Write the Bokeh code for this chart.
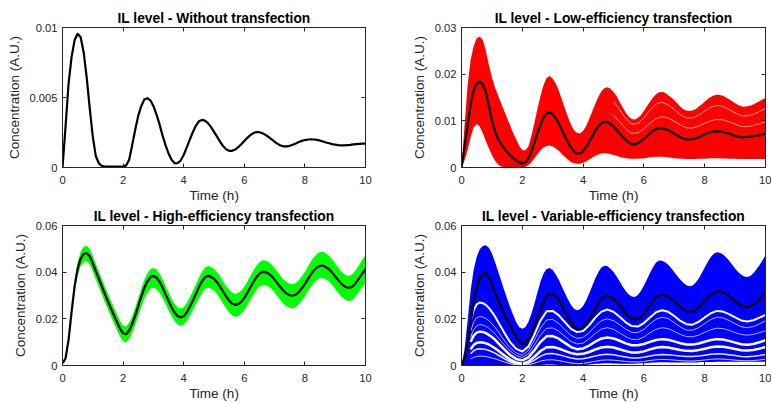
import numpy as np
from bokeh.plotting import figure
from bokeh.layouts import row, column
from bokeh.models import Range1d, FixedTicker, LinearAxis, CustomJSTickFormatter
from bokeh.embed import file_html
from bokeh.resources import INLINE

# ---------------- data ----------------
# fine time grid (hours) for the mean curves and the envelopes of the trace bundles
T_FINE = [0.0, 0.1, 0.2, 0.3, 0.4, 0.5, 0.6, 0.7, 0.8, 0.9,
          1.0, 1.1, 1.2, 1.3, 1.4, 1.5, 1.6, 1.7, 1.8, 1.9,
          2.0, 2.1, 2.2, 2.3, 2.4, 2.5, 2.6, 2.7, 2.8, 2.9,
          3.0, 3.1, 3.2, 3.3, 3.4, 3.5, 3.6, 3.7, 3.8, 3.9,
          4.0, 4.1, 4.2, 4.3, 4.4, 4.5, 4.6, 4.7, 4.8, 4.9,
          5.0, 5.1, 5.2, 5.3, 5.4, 5.5, 5.6, 5.7, 5.8, 5.9,
          6.0, 6.1, 6.2, 6.3, 6.4, 6.5, 6.6, 6.7, 6.8, 6.9,
          7.0, 7.1, 7.2, 7.3, 7.4, 7.5, 7.6, 7.7, 7.8, 7.9,
          8.0, 8.1, 8.2, 8.3, 8.4, 8.5, 8.6, 8.7, 8.8, 8.9,
          9.0, 9.1, 9.2, 9.3, 9.4, 9.5, 9.6, 9.7, 9.8, 9.9,
          10.0]

# Panel 1: without transfection (values in 1e-3 A.U.)
IL_NONE_MILLI = [0.0, 2.9, 6.0, 7.9, 9.1, 9.55, 9.3, 8.2, 6.4, 4.2,
                 2.2, 0.8, 0.3, 0.12, 0.07, 0.06, 0.06, 0.06, 0.06, 0.06,
                 0.07, 0.15, 0.55, 1.6, 2.7, 3.7, 4.4, 4.85, 4.95, 4.8,
                 4.4, 3.8, 3.1, 2.3, 1.6, 1.0, 0.55, 0.3, 0.31, 0.5,
                 0.9, 1.43, 1.99, 2.52, 2.98, 3.3, 3.4, 3.35, 3.17, 2.9,
                 2.55, 2.2, 1.85, 1.53, 1.3, 1.19, 1.19, 1.28, 1.45, 1.66,
                 1.9, 2.12, 2.31, 2.46, 2.53, 2.52, 2.45, 2.33, 2.18, 2.01,
                 1.84, 1.69, 1.57, 1.51, 1.51, 1.55, 1.62, 1.72, 1.82, 1.9,
                 1.96, 2.0, 2.01, 2.0, 1.97, 1.92, 1.86, 1.79, 1.73, 1.67,
                 1.63, 1.6, 1.58, 1.58, 1.6, 1.62, 1.65, 1.67, 1.69, 1.70,
                 1.71]

# Panel 2: low-efficiency transfection (values in 1e-2 A.U.)
IL_LOW_MEAN_CENTI = [0.0, 0.45, 0.9, 1.35, 1.65, 1.8, 1.84, 1.78, 1.62, 1.33,
                     1.02, 0.79, 0.62, 0.51, 0.41, 0.33, 0.26, 0.2, 0.15, 0.11,
                     0.09, 0.11, 0.19, 0.34, 0.53, 0.73, 0.92, 1.07, 1.16, 1.18,
                     1.145, 1.06, 0.95, 0.81, 0.67, 0.54, 0.43, 0.35, 0.30, 0.30,
                     0.35, 0.44, 0.545, 0.66, 0.78, 0.88, 0.95, 0.98, 0.97, 0.935,
                     0.88, 0.81, 0.73, 0.66, 0.59, 0.535, 0.50, 0.495, 0.52, 0.56,
                     0.61, 0.67, 0.73, 0.785, 0.82, 0.84, 0.84, 0.825, 0.80, 0.76,
                     0.72, 0.68, 0.65, 0.62, 0.60, 0.60, 0.61, 0.625, 0.65, 0.68,
                     0.71, 0.74, 0.76, 0.775, 0.78, 0.775, 0.76, 0.745, 0.725, 0.70,
                     0.68, 0.66, 0.65, 0.648, 0.655, 0.66, 0.67, 0.68, 0.695, 0.71,
                     0.72]
IL_LOW_UPPER_CENTI = [0.0, 0.9, 1.75, 2.3, 2.6, 2.77, 2.80, 2.74, 2.5, 2.2,
                      1.93, 1.72, 1.55, 1.38, 1.22, 1.06, 0.9, 0.74, 0.6, 0.46,
                      0.37, 0.37, 0.45, 0.68, 0.96, 1.26, 1.54, 1.77, 1.92, 1.96,
                      1.90, 1.8, 1.65, 1.46, 1.27, 1.08, 0.92, 0.8, 0.74, 0.73,
                      0.78, 0.89, 1.04, 1.2, 1.36, 1.51, 1.63, 1.70, 1.72, 1.69,
                      1.62, 1.53, 1.41, 1.29, 1.18, 1.09, 1.04, 1.03, 1.06, 1.12,
                      1.21, 1.31, 1.41, 1.5, 1.57, 1.61, 1.62, 1.6, 1.55, 1.5,
                      1.44, 1.37, 1.30, 1.25, 1.22, 1.21, 1.22, 1.25, 1.30, 1.35,
                      1.41, 1.47, 1.51, 1.545, 1.56, 1.555, 1.535, 1.5, 1.46, 1.42,
                      1.375, 1.34, 1.31, 1.30, 1.31, 1.325, 1.35, 1.385, 1.42, 1.455,
                      1.49]
IL_LOW_LOWER_CENTI = [0.0, 0.15, 0.37, 0.65, 0.86, 0.93, 0.88, 0.74, 0.57, 0.41,
                      0.27, 0.15, 0.07, 0.02, 0.0, 0.0, 0.0, 0.0, 0.0, 0.0,
                      0.0, 0.01, 0.05, 0.11, 0.2, 0.29, 0.37, 0.43, 0.46, 0.47,
                      0.45, 0.41, 0.36, 0.29, 0.23, 0.17, 0.12, 0.09, 0.08, 0.08,
                      0.1, 0.13, 0.17, 0.21, 0.25, 0.28, 0.30, 0.305, 0.30, 0.29,
                      0.27, 0.25, 0.23, 0.215, 0.2, 0.195, 0.19, 0.19, 0.19, 0.195,
                      0.2, 0.21, 0.22, 0.225, 0.23, 0.23, 0.23, 0.225, 0.22, 0.21,
                      0.2, 0.195, 0.19, 0.185, 0.18, 0.18, 0.18, 0.182, 0.185, 0.188,
                      0.19, 0.195, 0.2, 0.2, 0.2, 0.198, 0.195, 0.192, 0.19, 0.188,
                      0.185, 0.182, 0.18, 0.18, 0.18, 0.18, 0.18, 0.18, 0.18, 0.18,
                      0.18]
# visible gaps between individual low-efficiency traces (from t = 5 h)
T_LOW_GAPS = [5.0, 5.2, 5.4, 5.6, 5.8, 6.0, 6.2, 6.4, 6.6, 6.8, 7.0, 7.2, 7.4,
              7.6, 7.8, 8.0, 8.2, 8.4, 8.6, 8.8, 9.0, 9.2, 9.4, 9.6, 9.8, 10.0]
IL_LOW_GAP_A_CENTI = [1.415, 1.24, 1.05, 0.93, 0.94, 1.06, 1.23, 1.36, 1.40, 1.34, 1.24, 1.13, 1.06,
                      1.06, 1.12, 1.21, 1.29, 1.33, 1.31, 1.24, 1.17, 1.11, 1.105, 1.14, 1.20, 1.26]
IL_LOW_GAP_B_CENTI = [1.12, 0.98, 0.83, 0.73, 0.74, 0.83, 0.95, 1.05, 1.09, 1.06, 0.99, 0.91, 0.85,
                      0.845, 0.89, 0.95, 1.0, 1.03, 1.02, 0.98, 0.93, 0.88, 0.875, 0.9, 0.94, 0.98]

# Panel 3: high-efficiency transfection (values in 1e-2 A.U.)
IL_HIGH_MEAN_CENTI = [0.10, 0.30, 1.10, 2.30, 3.40, 4.15, 4.58, 4.78, 4.82, 4.68,
                      4.38, 4.04, 3.72, 3.39, 3.06, 2.75, 2.45, 2.15, 1.86, 1.58,
                      1.38, 1.34, 1.50, 1.78, 2.14, 2.55, 2.95, 3.32, 3.60, 3.78,
                      3.84, 3.77, 3.60, 3.35, 3.06, 2.77, 2.50, 2.27, 2.12, 2.06,
                      2.11, 2.27, 2.51, 2.78, 3.06, 3.35, 3.60, 3.78, 3.84, 3.80,
                      3.72, 3.57, 3.38, 3.17, 2.96, 2.78, 2.65, 2.60, 2.63, 2.73,
                      2.90, 3.11, 3.35, 3.58, 3.78, 3.93, 4.01, 4.00, 3.94, 3.83,
                      3.68, 3.51, 3.34, 3.19, 3.08, 3.01, 2.99, 3.04, 3.15, 3.31,
                      3.49, 3.70, 3.91, 4.08, 4.20, 4.27, 4.27, 4.21, 4.12, 3.98,
                      3.82, 3.66, 3.51, 3.40, 3.34, 3.34, 3.42, 3.57, 3.76, 3.95,
                      4.13]
IL_HIGH_UPPER_CENTI = [0.15, 0.40, 1.25, 2.50, 3.65, 4.43, 4.88, 5.09, 5.13, 4.99,
                       4.70, 4.36, 4.04, 3.71, 3.38, 3.07, 2.78, 2.48, 2.19, 1.91,
                       1.71, 1.67, 1.83, 2.11, 2.47, 2.88, 3.29, 3.66, 3.94, 4.12,
                       4.18, 4.115, 3.95, 3.705, 3.42, 3.135, 2.87, 2.645, 2.50, 2.445,
                       2.50, 2.665, 2.91, 3.185, 3.47, 3.76, 4.01, 4.19, 4.26, 4.225,
                       4.15, 4.005, 3.82, 3.615, 3.41, 3.24, 3.12, 3.075, 3.11, 3.21,
                       3.38, 3.595, 3.84, 4.075, 4.28, 4.43, 4.51, 4.50, 4.44, 4.33,
                       4.18, 4.01, 3.84, 3.69, 3.58, 3.505, 3.48, 3.535, 3.65, 3.82,
                       4.01, 4.235, 4.46, 4.645, 4.78, 4.86, 4.87, 4.80, 4.70, 4.545,
                       4.37, 4.195, 4.03, 3.91, 3.84, 3.855, 3.95, 4.12, 4.33, 4.54,
                       4.74]
IL_HIGH_LOWER_CENTI = [0.05, 0.20, 0.95, 2.10, 3.15, 3.85, 4.25, 4.43, 4.47, 4.33,
                       4.03, 3.69, 3.37, 3.04, 2.71, 2.40, 2.10, 1.80, 1.52, 1.24,
                       1.04, 0.99, 1.14, 1.40, 1.74, 2.125, 2.50, 2.845, 3.10, 3.275,
                       3.33, 3.27, 3.12, 2.90, 2.64, 2.37, 2.12, 1.90, 1.76, 1.70,
                       1.75, 1.89, 2.11, 2.355, 2.61, 2.875, 3.10, 3.275, 3.33, 3.29,
                       3.21, 3.06, 2.87, 2.66, 2.45, 2.27, 2.14, 2.09, 2.12, 2.22,
                       2.38, 2.58, 2.81, 3.035, 3.23, 3.375, 3.45, 3.44, 3.38, 3.275,
                       3.13, 2.96, 2.79, 2.64, 2.54, 2.47, 2.45, 2.505, 2.62, 2.785,
                       2.97, 3.18, 3.39, 3.56, 3.68, 3.75, 3.75, 3.685, 3.59, 3.445,
                       3.28, 3.115, 2.96, 2.845, 2.78, 2.775, 2.85, 2.995, 3.18, 3.365,
                       3.54]

# Panel 4: variable-efficiency transfection (values in 1e-2 A.U.)
IL_VAR_MEAN_CENTI = [0.0, 0.3, 0.9, 1.8, 2.7, 3.35, 3.75, 3.93, 3.96, 3.78,
                     3.45, 3.12, 2.82, 2.52, 2.22, 1.95, 1.70, 1.45, 1.22, 1.03,
                     0.93, 0.95, 1.09, 1.35, 1.69, 2.06, 2.41, 2.73, 2.97, 3.07,
                     3.06, 2.96, 2.80, 2.57, 2.31, 2.06, 1.82, 1.65, 1.56, 1.55,
                     1.62, 1.77, 1.97, 2.19, 2.42, 2.65, 2.84, 2.95, 2.98, 2.95,
                     2.86, 2.74, 2.59, 2.42, 2.24, 2.10, 2.01, 1.97, 1.99, 2.07,
                     2.21, 2.39, 2.58, 2.76, 2.90, 2.99, 3.03, 3.01, 2.95, 2.86,
                     2.75, 2.62, 2.50, 2.40, 2.33, 2.30, 2.32, 2.38, 2.48, 2.61,
                     2.76, 2.90, 3.02, 3.11, 3.16, 3.17, 3.13, 3.06, 2.97, 2.86,
                     2.75, 2.65, 2.57, 2.52, 2.51, 2.54, 2.61, 2.71, 2.84, 2.97,
                     3.10]
IL_VAR_UPPER_CENTI = [0.0, 0.7, 1.9, 3.2, 4.1, 4.65, 4.98, 5.12, 5.15, 5.05,
                      4.8, 4.45, 4.05, 3.65, 3.25, 2.87, 2.5, 2.16, 1.85, 1.64,
                      1.57, 1.64, 1.86, 2.22, 2.66, 3.14, 3.60, 3.94, 4.14, 4.18,
                      4.09, 3.90, 3.67, 3.39, 3.11, 2.84, 2.60, 2.43, 2.37, 2.41,
                      2.55, 2.79, 3.09, 3.41, 3.73, 4.00, 4.20, 4.28, 4.25, 4.15,
                      4.01, 3.82, 3.61, 3.39, 3.19, 3.04, 2.96, 2.94, 3.02, 3.19,
                      3.42, 3.69, 3.96, 4.21, 4.41, 4.50, 4.49, 4.42, 4.32, 4.17,
                      4.00, 3.84, 3.68, 3.54, 3.44, 3.40, 3.43, 3.55, 3.72, 3.95,
                      4.20, 4.44, 4.65, 4.79, 4.85, 4.83, 4.76, 4.64, 4.50, 4.33,
                      4.16, 4.01, 3.89, 3.81, 3.79, 3.84, 3.95, 4.11, 4.30, 4.50,
                      4.71]
IL_VAR_LOWER_CENTI = [0.0, 0.0, 0.0, 0.0, 0.0, 0.0, 0.0, 0.0, 0.0, 0.0,
                      0.0, 0.0, 0.0, 0.0, 0.0, 0.0, 0.0, 0.0, 0.0, 0.0,
                      0.0, 0.0, 0.0, 0.0, 0.0, 0.0, 0.02, 0.03, 0.04, 0.045,
                      0.04, 0.03, 0.02, 0.01, 0.0, 0.0, 0.0, 0.0, 0.0, 0.0,
                      0.01, 0.025, 0.04, 0.055, 0.07, 0.08, 0.09, 0.095, 0.1, 0.095,
                      0.09, 0.085, 0.08, 0.08, 0.08, 0.08, 0.08, 0.08, 0.09, 0.095,
                      0.1, 0.11, 0.12, 0.125, 0.13, 0.135, 0.14, 0.14, 0.14, 0.13,
                      0.13, 0.13, 0.13, 0.13, 0.13, 0.13, 0.13, 0.13, 0.14, 0.145,
                      0.15, 0.15, 0.15, 0.15, 0.16, 0.16, 0.16, 0.16, 0.16, 0.16,
                      0.16, 0.16, 0.16, 0.16, 0.16, 0.16, 0.16, 0.16, 0.16, 0.16,
                      0.16]

# coarser grid (hours) for the visible gaps between groups of variable-efficiency traces
T_GAPS = [0.0, 0.1, 0.2, 0.3, 0.4, 0.5, 0.6, 0.7, 0.8, 0.9, 1.0, 1.1, 1.2,
          1.4, 1.6, 1.8, 2.0, 2.2, 2.4, 2.6, 2.8, 3.0, 3.2, 3.4, 3.6, 3.8,
          4.0, 4.2, 4.4, 4.6, 4.8, 5.0, 5.2, 5.4, 5.6, 5.8, 6.0, 6.2, 6.4,
          6.6, 6.8, 7.0, 7.2, 7.4, 7.6, 7.8, 8.0, 8.2, 8.4, 8.6, 8.8, 9.0,
          9.2, 9.4, 9.6, 9.8, 10.0]
IL_VAR_GAP_1_CENTI = [0.0, 0.54, 1.22, 1.89, 2.38, 2.62, 2.70, 2.67, 2.60, 2.47, 2.30, 2.11, 1.88,
                      1.42, 1.00, 0.71, 0.60, 0.81, 1.33, 1.93, 2.32, 2.34, 2.15, 1.86, 1.57, 1.43,
                      1.48, 1.72, 2.05, 2.31, 2.40, 2.30, 2.09, 1.85, 1.69, 1.67, 1.82, 2.06, 2.28,
                      2.37, 2.30, 2.12, 1.91, 1.77, 1.75, 1.87, 2.06, 2.24, 2.34, 2.31, 2.20, 2.06,
                      1.93, 1.89, 1.94, 2.05, 2.17]
IL_VAR_GAP_2_CENTI = [0.0, 0.42, 0.95, 1.47, 1.85, 2.04, 2.10, 2.08, 2.02, 1.92, 1.79, 1.64, 1.46,
                      1.09, 0.76, 0.53, 0.45, 0.64, 1.09, 1.61, 1.95, 1.98, 1.80, 1.54, 1.29, 1.16,
                      1.20, 1.41, 1.69, 1.92, 2.00, 1.92, 1.75, 1.56, 1.42, 1.41, 1.55, 1.78, 1.98,
                      2.07, 2.01, 1.84, 1.65, 1.52, 1.51, 1.62, 1.80, 1.97, 2.07, 2.04, 1.93, 1.79,
                      1.66, 1.62, 1.67, 1.78, 1.91]
IL_VAR_GAP_3_CENTI = [0.0, 0.35, 0.79, 1.23, 1.54, 1.70, 1.75, 1.73, 1.68, 1.60, 1.48, 1.36, 1.20,
                      0.90, 0.62, 0.42, 0.35, 0.50, 0.88, 1.31, 1.59, 1.61, 1.47, 1.25, 1.03, 0.925,
                      0.96, 1.14, 1.37, 1.56, 1.62, 1.55, 1.40, 1.24, 1.12, 1.11, 1.22, 1.40, 1.55,
                      1.62, 1.58, 1.46, 1.33, 1.24, 1.23, 1.30, 1.42, 1.535, 1.60, 1.58, 1.51, 1.41,
                      1.33, 1.30, 1.33, 1.405, 1.49]
IL_VAR_GAP_4_CENTI = [0.0, 0.29, 0.65, 1.02, 1.28, 1.41, 1.45, 1.44, 1.39, 1.31, 1.22, 1.11, 0.97,
                      0.70, 0.45, 0.28, 0.22, 0.35, 0.655, 1.015, 1.25, 1.26, 1.15, 0.97, 0.79, 0.70,
                      0.73, 0.855, 1.02, 1.155, 1.20, 1.16, 1.06, 0.95, 0.87, 0.865, 0.92, 1.01, 1.095,
                      1.13, 1.10, 1.035, 0.955, 0.90, 0.895, 0.94, 1.015, 1.09, 1.13, 1.115, 1.055, 0.98,
                      0.91, 0.89, 0.92, 0.995, 1.08]
IL_VAR_GAP_5_CENTI = [0.0, 0.20, 0.45, 0.70, 0.88, 0.97, 1.00, 0.99, 0.95, 0.90, 0.825, 0.74, 0.64,
                      0.44, 0.255, 0.125, 0.08, 0.165, 0.375, 0.62, 0.78, 0.79, 0.73, 0.63, 0.53, 0.48,
                      0.50, 0.58, 0.685, 0.77, 0.80, 0.77, 0.695, 0.615, 0.56, 0.555, 0.605, 0.69, 0.76,
                      0.79, 0.77, 0.72, 0.666, 0.627, 0.624, 0.66, 0.72, 0.78, 0.81, 0.80, 0.757, 0.703,
                      0.656, 0.64, 0.666, 0.724, 0.79]
IL_VAR_GAP_6_CENTI = [0.0, 0.144, 0.324, 0.504, 0.634, 0.70, 0.72, 0.71, 0.685, 0.644, 0.59, 0.53, 0.45,
                      0.30, 0.16, 0.065, 0.03, 0.09, 0.23, 0.40, 0.505, 0.51, 0.465, 0.39, 0.32, 0.28,
                      0.29, 0.34, 0.41, 0.46, 0.48, 0.46, 0.41, 0.36, 0.326, 0.323, 0.355, 0.405, 0.45,
                      0.47, 0.46, 0.434, 0.404, 0.384, 0.382, 0.405, 0.443, 0.48, 0.50, 0.49, 0.463, 0.424,
                      0.39, 0.38, 0.396, 0.43, 0.47]
IL_VAR_GAP_7_CENTI = [0.0, 0.08, 0.18, 0.28, 0.35, 0.39, 0.40, 0.395, 0.38, 0.356, 0.324, 0.288, 0.244,
                      0.156, 0.076, 0.02, 0.0, 0.03, 0.10, 0.19, 0.24, 0.245, 0.21, 0.158, 0.107, 0.08,
                      0.09, 0.13, 0.18, 0.226, 0.24, 0.228, 0.202, 0.173, 0.154, 0.152, 0.175, 0.213, 0.246,
                      0.26, 0.252, 0.232, 0.209, 0.193, 0.192, 0.209, 0.237, 0.265, 0.28, 0.275, 0.255, 0.23,
                      0.208, 0.20, 0.212, 0.238, 0.268]

TITLES = ["IL level - Without transfection",
          "IL level - Low-efficiency transfection",
          "IL level - High-efficiency transfection",
          "IL level - Variable-efficiency transfection"]
X_LABEL = "Time (h)"
Y_LABEL = "Concentration (A.U.)"
X_TICKS = [0, 2, 4, 6, 8, 10]
Y_TICKS_NONE = [0, 0.005, 0.01]
Y_LABELS_NONE = ["0", "0.005", "0.01"]
Y_TICKS_LOW = [0, 0.01, 0.02, 0.03]
Y_LABELS_LOW = ["0", "0.01", "0.02", "0.03"]
Y_TICKS_HIGH = [0, 0.02, 0.04, 0.06]
Y_LABELS_HIGH = ["0", "0.02", "0.04", "0.06"]

for series in (IL_NONE_MILLI, IL_LOW_MEAN_CENTI, IL_LOW_UPPER_CENTI, IL_LOW_LOWER_CENTI,
               IL_HIGH_MEAN_CENTI, IL_HIGH_UPPER_CENTI, IL_HIGH_LOWER_CENTI,
               IL_VAR_MEAN_CENTI, IL_VAR_UPPER_CENTI, IL_VAR_LOWER_CENTI):
    assert len(series) == len(T_FINE), len(series)

# ---------------- styling ----------------
FONT = "Liberation Sans"
INK = "#262626"
MILLI = 1e-3
CENTI = 1e-2
GAP_START = 3   # the gaps are drawn from the 4th coarse time sample on

t = np.array(T_FINE)
tc = np.array(T_GAPS)


def make_panel(title, ymax, yticks, ylabels, width, height, left, right, top, bottom,
               title_standoff):
    p = figure(width=width, height=height,
               x_range=Range1d(0, 10), y_range=Range1d(0, ymax),
               output_backend="svg", toolbar_location=None,
               min_border_left=left, min_border_right=right,
               min_border_top=top, min_border_bottom=bottom,
               title=title, background_fill_color="white", border_fill_color="white")
    p.title.align = "center"
    p.title.text_font = FONT
    p.title.text_font_size = "13.8px"
    p.title.text_font_style = "bold"
    p.title.text_color = "black"
    p.title.text_line_height = 1.0
    p.title.standoff = title_standoff
    p.grid.visible = False
    p.outline_line_color = INK
    p.outline_line_width = 1

    xa = p.xaxis[0]
    ya = p.yaxis[0]
    xa.ticker = FixedTicker(ticks=X_TICKS)
    ya.ticker = FixedTicker(ticks=yticks)
    ya.major_label_overrides = {v: s for v, s in zip(yticks, ylabels)}
    xa.axis_label = X_LABEL
    ya.axis_label = Y_LABEL
    for ax in (xa, ya):
        ax.axis_line_color = INK
        ax.major_tick_line_color = INK
        ax.major_tick_in = 4
        ax.major_tick_out = 0
        ax.minor_tick_line_color = None
        ax.major_label_text_font = FONT
        ax.major_label_text_font_size = "11.2px"
        ax.major_label_text_color = INK
        ax.major_label_text_line_height = 1.0
        ax.axis_label_text_font = FONT
        ax.axis_label_text_font_size = "13.5px"
        ax.axis_label_text_font_style = "normal"
        ax.axis_label_text_color = INK
        ax.axis_label_text_line_height = 1.0
    xa.major_label_standoff = 8
    xa.axis_label_standoff = 1
    ya.major_label_standoff = 5
    ya.axis_label_standoff = 5

    # box ticks on the top and right sides
    blank = CustomJSTickFormatter(code="return ''")
    top_ax = LinearAxis(ticker=FixedTicker(ticks=X_TICKS), formatter=blank,
                        major_tick_in=4, major_tick_out=0, minor_tick_line_color=None,
                        axis_line_color=INK, major_tick_line_color=INK,
                        major_label_text_font_size="0px", major_label_standoff=0)
    right_ax = LinearAxis(ticker=FixedTicker(ticks=yticks), formatter=blank,
                          major_tick_in=4, major_tick_out=0, minor_tick_line_color=None,
                          axis_line_color=INK, major_tick_line_color=INK,
                          major_label_text_font_size="0px", major_label_standoff=0)
    p.add_layout(top_ax, "above")
    p.add_layout(right_ax, "right")
    return p


# column 1: frame x 62..365 ; column 2: frame x 461..765
# row 1: frame y 27..168 ; row 2: frame y 224..365
p1 = make_panel(TITLES[0], 0.01, Y_TICKS_NONE, Y_LABELS_NONE, 385, 205, 62, 20, 27, 37, 4)
p2 = make_panel(TITLES[1], 0.03, Y_TICKS_LOW, Y_LABELS_LOW, 386, 205, 76, 6, 27, 37, 4)
p3 = make_panel(TITLES[2], 0.06, Y_TICKS_HIGH, Y_LABELS_HIGH, 385, 198, 62, 20, 19, 38, 3)
p4 = make_panel(TITLES[3], 0.06, Y_TICKS_HIGH, Y_LABELS_HIGH, 386, 198, 76, 6, 19, 38, 3)

MEAN_W = 2.2

# panel 1
p1.line(t, np.array(IL_NONE_MILLI) * MILLI, line_color="black", line_width=MEAN_W,
        line_join="round")

# panel 2
p2.varea(x=t, y1=np.array(IL_LOW_LOWER_CENTI) * CENTI, y2=np.array(IL_LOW_UPPER_CENTI) * CENTI,
         fill_color="#ff0000")
tg = np.array(T_LOW_GAPS)
for gap in (IL_LOW_GAP_A_CENTI, IL_LOW_GAP_B_CENTI):
    p2.line(tg, np.array(gap) * CENTI, line_color="white", line_width=0.9, line_alpha=0.7,
            line_join="round")
p2.line(t, np.array(IL_LOW_MEAN_CENTI) * CENTI, line_color="black", line_width=MEAN_W,
        line_join="round")

# panel 3
p3.varea(x=t, y1=np.array(IL_HIGH_LOWER_CENTI) * CENTI, y2=np.array(IL_HIGH_UPPER_CENTI) * CENTI,
         fill_color="#00ff00")
p3.line(t, np.array(IL_HIGH_MEAN_CENTI) * CENTI, line_color="black", line_width=MEAN_W,
        line_join="round")

# panel 4
p4.varea(x=t, y1=np.array(IL_VAR_LOWER_CENTI) * CENTI, y2=np.array(IL_VAR_UPPER_CENTI) * CENTI,
         fill_color="#0000ff")
var_gaps = [IL_VAR_GAP_1_CENTI, IL_VAR_GAP_2_CENTI, IL_VAR_GAP_3_CENTI, IL_VAR_GAP_4_CENTI,
            IL_VAR_GAP_5_CENTI, IL_VAR_GAP_6_CENTI, IL_VAR_GAP_7_CENTI]
gap_widths = [2.0, 1.0, 1.0, 2.5, 2.5, 1.5, 1.0]
gap_alphas = [1.0, 0.7, 0.7, 1.0, 1.0, 0.9, 0.8]
for gap, w, a in zip(var_gaps, gap_widths, gap_alphas):
    p4.line(tc[GAP_START:], np.array(gap)[GAP_START:] * CENTI, line_color="white",
            line_width=w, line_alpha=a, line_join="round")
p4.line(t, np.array(IL_VAR_MEAN_CENTI) * CENTI, line_color="black", line_width=MEAN_W,
        line_join="round")

layout = column(row(p1, p2, spacing=0), row(p3, p4, spacing=0), spacing=0)

open("out.html", "w").write(file_html(layout, INLINE))
